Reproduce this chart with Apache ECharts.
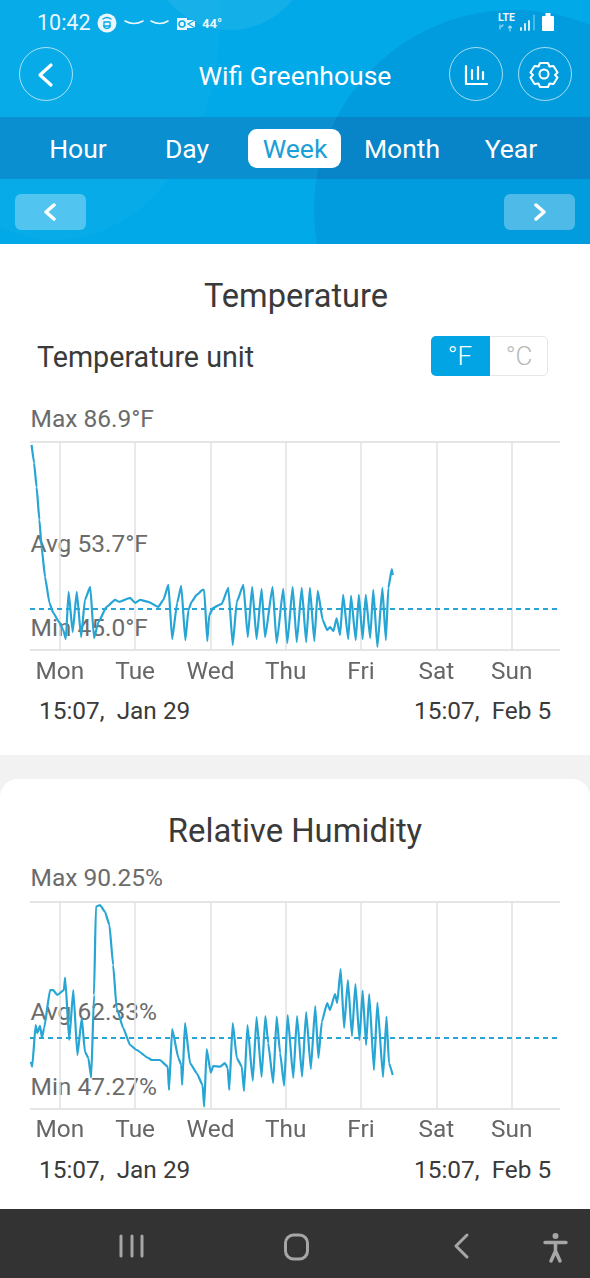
<!DOCTYPE html>
<html>
<head>
<meta charset="utf-8">
<title>Wifi Greenhouse</title>
<script src="https://cdn.jsdelivr.net/npm/echarts@6/dist/echarts.min.js"></script>
<style>
html, body { margin: 0; padding: 0; background: #f2f2f2; }
#page { position: relative; width: 590px; height: 1278px; overflow: hidden; font-family: Roboto, sans-serif; background: #f2f2f2; }
#page div { position: absolute; }
.t { white-space: nowrap; line-height: 1; }
.c { transform: translate(-50%, -50%); }
.m { transform: translateY(-50%); }
.lbl { left: 30.5px; font-size: 24.5px; color: #6b6b6b; }
.date { font-size: 24.4px; color: #3a3a3a; white-space: pre; }
.ring { width: 54px; height: 54px; border: 1px solid rgba(255,255,255,.65); border-radius: 50%; box-sizing: border-box; }
.tab { top: 149px; font-size: 26.5px; color: #fff; }
</style>
</head>
<body>
<div id="page">
  <div style="left:0;top:0;width:590px;height:244px;background:#02a9e8;overflow:hidden">
    <div style="left:-110px;top:-200px;width:330px;height:440px;border-radius:50%;background:rgba(255,255,255,.025)"></div>
    <div style="left:150px;top:-130px;width:160px;height:160px;border-radius:50%;background:rgba(255,255,255,.07)"></div>
    <div style="left:0;top:117px;width:590px;height:62px;background:#0a8fd0"></div>
    <div style="left:314px;top:10px;width:400px;height:400px;border-radius:50%;background:rgba(0,70,150,.13)"></div>
    <div style="left:15px;top:194px;width:71px;height:36px;border-radius:6px;background:rgba(255,255,255,.3)"></div>
    <div style="left:504px;top:194px;width:71px;height:36px;border-radius:6px;background:rgba(255,255,255,.3)"></div>
  </div>

  <div class="t m" style="left:37px;top:23px;font-size:21.5px;color:#eaf7fd">10:42</div>
  <div class="t m" style="left:202px;top:23px;font-size:13px;font-weight:700;color:#eaf7fd">44°</div>
  <div class="t m" style="left:498px;top:18px;font-size:10.5px;font-weight:700;color:#eaf7fd">LTE</div>
  <svg style="position:absolute;left:0;top:0" width="590" height="244" fill="none" stroke-linecap="round" stroke-linejoin="round">
    <circle cx="107" cy="23" r="9.5" fill="#eaf7fd"/>
    <path d="M103 19q4 -3 8 0M103.500 26h7M104 22h6v5q-3 3 -6 0z" stroke="#02a9e8" stroke-width="1.3"/>
    <path d="M125 21q9 5 18 0M151 21q9 5 17 0" stroke="#eaf7fd" stroke-width="1.6"/>
    <path d="M177 18h10v2h8v8l-8 0v2h-10z" fill="#eaf7fd"/>
    <circle cx="182" cy="24" r="3" stroke="#02a9e8" stroke-width="1.500"/>
    <path d="M188 24l7-4M188 24l7 4" stroke="#02a9e8" stroke-width="1.200"/>
    <path d="M500 29v-4M503 25l-1.500 1.500M510 31v-5M508.500 27.500l1.500-1.500l1.500 1.500" stroke="#9fdcf5" stroke-width="1.200"/>
    <path d="M521 30v-2M525 30v-6M529 30v-9" stroke="#eaf7fd" stroke-width="1.800"/>
    <path d="M534 30v-15" stroke="#7fcdf0" stroke-width="1.200"/>
    <rect x="542" y="16" width="12" height="15" rx="1" fill="#fff"/>
    <rect x="545.500" y="13" width="5" height="3.500" fill="#fff"/>
    <path d="M51 65L40 75L51 85" stroke="#fff" stroke-width="3.200"/>
    <path d="M466 66v18h21M472 79v-9M478 79v-12M483 79v-7" stroke="#fff" stroke-width="2.200"/>
    <circle cx="544" cy="74" r="4.500" stroke="#fff" stroke-width="2"/>
    <path d="M540 63h8l1.500 3.500l4-.5l4 6.500l-2.500 2.500l2.500 2.500l-4 6.500l-4-.5l-1.500 3.500h-8l-1.500-3.500l-4 .5l-4-6.500l2.500-2.500l-2.500-2.500l4-6.500l4 .5z" stroke="#fff" stroke-width="2"/>
    <path d="M54 205L46 212L54 219M536 205L544 212L536 219" stroke="#fff" stroke-width="3.500"/>
  </svg>
  <div class="ring" style="left:19px;top:47px"></div>
  <div class="ring" style="left:449px;top:47px"></div>
  <div class="ring" style="left:518px;top:47px"></div>
  <div class="t c" style="left:295px;top:76px;font-size:26.500px;color:#fff">Wifi Greenhouse</div>

  <div style="left:248px;top:129px;width:93px;height:39px;border-radius:9px;background:#fff"></div>
  <div class="t c tab" style="left:78px">Hour</div>
  <div class="t c tab" style="left:187px">Day</div>
  <div class="t c tab" style="left:295px;color:#1b9fd6">Week</div>
  <div class="t c tab" style="left:402px">Month</div>
  <div class="t c tab" style="left:511px">Year</div>

  <!-- cards -->
  <div style="left:0;top:244px;width:590px;height:511px;background:#fff"></div>
  <div style="left:0;top:779px;width:590px;height:440px;background:#fff;border-radius:18px 18px 0 0"></div>

  <div class="t c" style="left:296px;top:296px;font-size:32.6px;color:#3a3a3a">Temperature</div>
  <div class="t m" style="left:37px;top:357px;font-size:28.7px;color:#3a3a3a">Temperature unit</div>
  <div style="left:431px;top:336px;width:117px;height:40px;border:1px solid #e6e6e6;border-radius:5px;box-sizing:border-box"></div>
  <div style="left:431px;top:336px;width:59px;height:40px;background:#02a4e4;border-radius:5px 0 0 5px"></div>
  <div class="t c" style="left:460px;top:356px;font-size:26px;font-weight:300;color:#fff">°F</div>
  <div class="t c" style="left:519px;top:356px;font-size:26px;font-weight:300;color:#b8b8b8">°C</div>

  <div class="t m lbl" style="top:419px">Max 86.9°F</div>
  <div class="t m lbl" style="top:544px">Avg 53.7°F</div>
  <div class="t m lbl" style="top:628px">Min 45.0°F</div>
  <div class="t m date" style="left:39px;top:711px">15:07,  Jan 29</div>
  <div class="t m date" style="left:414px;top:711px">15:07,  Feb 5</div>

  <div class="t c" style="left:295px;top:831px;font-size:32.8px;color:#3a3a3a">Relative Humidity</div>
  <div class="t m lbl" style="top:878px">Max 90.25%</div>
  <div class="t m lbl" style="top:1012px">Avg 62.33%</div>
  <div class="t m lbl" style="top:1087px">Min 47.27%</div>
  <div class="t m date" style="left:39px;top:1170px">15:07,  Jan 29</div>
  <div class="t m date" style="left:414px;top:1170px">15:07,  Feb 5</div>

  <div id="tempChart" style="left:0;top:400px;width:590px;height:300px"></div>
  <div id="humChart" style="left:0;top:860px;width:590px;height:300px"></div>

  <div style="left:0;top:1209px;width:590px;height:69px;background:#333"></div>
  <svg style="position:absolute;left:0;top:1209px" width="590" height="69" fill="none" stroke="#a6a6a6" stroke-linecap="round" stroke-linejoin="round">
    <path d="M121 27v20M132 27v20M142 27v20" stroke-width="3"/>
    <rect x="285.500" y="26" width="22" height="24" rx="8" stroke-width="3"/>
    <path d="M467 26L456 37L467 48" stroke-width="3"/>
    <circle cx="555.500" cy="27" r="3" fill="#a6a6a6" stroke="none"/>
    <path d="M545 33.500h21M555.500 34v10M551 52l4.500-10l4.500 10" stroke-width="3.500"/>
  </svg>
</div>

<script>
"use strict"
// hours since 15:07 Jan 29
var dayLabels = ['Mon', 'Tue', 'Wed', 'Thu', 'Fri', 'Sat', 'Sun'];
var dayTicks = [9.5, 33.5, 57.5, 81.5, 105.5, 129.5, 153.5];

var tempHours = [0.5, 1.3, 2.1, 3.0, 3.7, 4.8, 6.2, 7.4, 9.3, 10.6, 11.4, 12.3, 13.6, 14.9, 16.3, 17.5, 19.2, 20.4, 21.8, 24.4,
    27.1, 28.5, 31.9, 33.5, 35.1, 37.7, 40.9, 42.5, 44.1, 45.3, 46.9, 48.2, 49.5, 50.5, 51.5, 53.1, 55.0, 55.5, 56.5, 57.1,
    58.4, 61.1, 63.2, 64.6, 65.9, 68.0, 69.4, 70.8, 72.2, 73.8, 74.9, 77.3, 78.6, 80.7, 82.0, 83.7, 85.0, 86.6, 88.0, 89.2,
    90.6, 91.7, 93.3, 94.7, 95.6, 96.7, 97.7, 98.8, 99.8, 101.4, 102.3, 103.8, 104.8, 106.0, 107.0, 108.4, 109.4, 110.7, 112.3, 113.4,
    114.2, 115.3, 115.6];
var tempValues = [86.3, 82.7, 77.8, 71.2, 65.7, 59.7, 54.5, 52.5, 50.6, 49.0, 47.2, 56.7, 48.6, 56.7, 47.6, 55.1, 57.7, 47.4, 50.6, 53.7,
    55.1, 54.7, 55.5, 54.5, 55.1, 54.7, 53.7, 55.1, 58.1, 47.2, 54.5, 57.9, 47.0, 53.1, 54.7, 56.1, 57.1, 57.1, 46.8, 52.0,
    53.5, 54.3, 57.5, 46.0, 54.7, 58.1, 47.6, 57.7, 47.2, 57.3, 47.6, 57.7, 46.4, 57.3, 46.4, 57.7, 46.6, 57.5, 46.6, 57.5,
    46.8, 56.9, 51.0, 49.0, 49.6, 48.8, 51.4, 48.0, 56.1, 47.2, 55.9, 47.0, 56.1, 47.2, 56.1, 47.4, 57.1, 45.6, 57.5, 47.0,
    57.5, 61.3, 60.1];
var tempMax = 86.9, tempAvgLine = 53.4, tempMin = 45.0;

var humHours = [0.3, 0.7, 1.8, 2.3, 3.2, 3.8, 4.5, 6.4, 7.4, 8.7, 10.8, 11.2, 12.5, 13.8, 15.1, 16.5, 17.5, 18.6, 19.5, 20.4,
    21.0, 22.3, 23.9, 25.3, 26.5, 27.6, 29.7, 31.9, 34.0, 37.7, 38.8, 41.4, 43.9, 44.3, 45.3, 47.3, 48.2, 48.5, 49.4, 51.0,
    53.1, 55.0, 55.5, 56.3, 57.6, 58.4, 60.6, 62.1, 63.0, 63.5, 64.6, 65.9, 67.5, 68.2, 69.3, 71.0, 72.2, 73.8, 75.0, 75.9,
    77.5, 78.6, 79.7, 81.0, 82.1, 83.9, 85.1, 86.7, 88.0, 89.5, 90.9, 91.9, 93.0, 94.7, 95.6, 97.2, 97.9, 99.0, 100.1, 101.3,
    102.6, 103.7, 105.0, 106.0, 107.1, 108.1, 109.6, 110.7, 112.5, 113.6, 114.4, 115.6];
var humValues = [57.09, 56.05, 64.71, 63.05, 64.56, 62.07, 64.09, 71.97, 71.97, 70.94, 71.97, 74.53, 61.6, 71.97, 58.48, 66.16, 59.17, 57.86, 53.77, 70.94,
    89.27, 89.62, 88.23, 85.47, 77.16, 68.24, 64.09, 60.56, 59.52, 57.86, 57.44, 57.44, 56.05, 51.21, 63.88, 57.86, 56.40, 52.25, 65.12, 56.82,
    54.74, 52.25, 47.75, 59.73, 54.81, 56.2, 56.05, 56.82, 55.78, 51.21, 65.12, 57.86, 56.05, 51.0, 64.71, 53.15, 66.37, 53.91, 66.58, 60.97,
    52.67, 66.43, 58.9, 52.11, 66.78, 53.71, 66.58, 53.98, 67.41, 55.57, 68.65, 57.86, 65.39, 69.28, 67.82, 71.14, 69.28, 76.33, 64.09, 74.05,
    62.42, 73.22, 61.6, 71.83, 60.56, 71.14, 55.37, 69.34, 53.91, 66.43, 56.82, 54.33];
var humMax = 90.25, humAvgLine = 62.0, humMin = 47.27;

var lineColor = '#27a5d4';
var gridColor = '#e2e2e2';

function make_chart(domId, hours, values, avg, min, max, plotHeight, labelGap) {
    var chart = echarts.init(document.getElementById(domId));
    var points = hours.map(function (h, i) { return [h, values[i]]; });
    chart.setOption({
        animation: false,
        grid: { left: 30, right: 30, top: 42, height: plotHeight },
        xAxis: {
            type: 'value',
            min: 0,
            max: 168.9,
            axisLine: { show: false },
            axisTick: { show: false, customValues: dayTicks },
            splitLine: { show: true, customValues: dayTicks, lineStyle: { color: gridColor, width: 1.5 } },
            axisLabel: {
                customValues: dayTicks,
                margin: labelGap,
                fontSize: 24.4,
                fontFamily: 'Roboto',
                color: '#666',
                formatter: function (v) { return dayLabels[dayTicks.indexOf(v)]; }
            }
        },
        yAxis: {
            type: 'value',
            min: min,
            max: max,
            axisLine: { show: false },
            axisTick: { show: false, customValues: [min, max] },
            axisLabel: { show: false },
            splitLine: { show: true, customValues: [min, max], lineStyle: { color: '#dcdcdc', width: 1.5 } }
        },
        series: [{
            type: 'line',
            data: points,
            showSymbol: false,
            clip: false,
            smooth: 0.15,
            smoothMonotone: 'x',
            lineStyle: { color: lineColor, width: 2.2, join: 'round' },
            markLine: {
                silent: true,
                symbol: 'none',
                label: { show: false },
                lineStyle: { color: lineColor, type: [5, 4], width: 1.8 },
                data: [{ yAxis: avg }]
            }
        }]
    });
    return chart;
}

make_chart('tempChart', tempHours, tempValues, tempAvgLine, tempMin, tempMax, 208, 11);
make_chart('humChart', humHours, humValues, humAvgLine, humMin, humMax, 207, 10);
</script>
</body>
</html>
